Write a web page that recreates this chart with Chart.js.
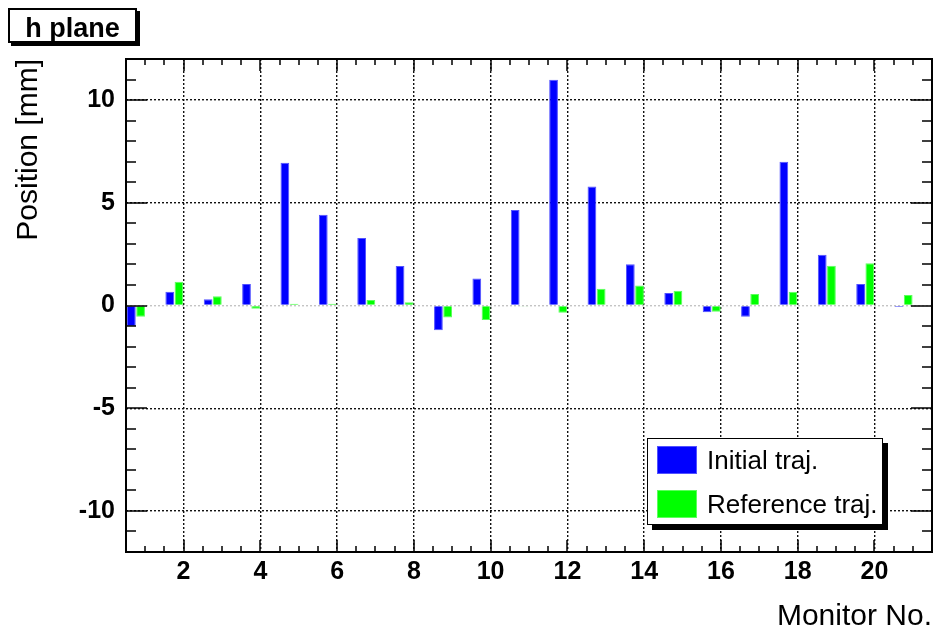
<!DOCTYPE html>
<html>
<head>
<meta charset="utf-8">
<script src="https://cdn.jsdelivr.net/npm/chart.js@4.4.1/dist/chart.umd.min.js"></script>
<style>
  html, body { margin: 0; padding: 0; background: #fff; }
  #wrap { position: relative; width: 935px; height: 635px; font-family: 'Liberation Sans', Arial, Helvetica, sans-serif; }
  #plot { position: absolute; left: 0; top: 0; }
  .title-box {
    position: absolute; left: 8px; top: 8px; width: 129px; height: 35px; box-sizing: border-box;
    border: 2px solid #000; background: #fff; box-shadow: 3px 3px 0 #000;
    font-weight: bold; font-size: 27px; line-height: 30px; padding-top: 3px; text-align: center; color: #000;
  }
  .legend-box {
    position: absolute; left: 647px; top: 438px; width: 236px; height: 87px; box-sizing: border-box;
    border: 1px solid #000; background: #fff; box-shadow: 5px 5px 0 #000;
  }
  .legend-row { position: absolute; left: 9px; height: 28px; display: flex; align-items: flex-start; }
  .legend-row .sw { width: 40px; height: 28px; box-sizing: border-box; border: 1px solid; }
  .legend-row .lb { margin-left: 10px; font-size: 26px; line-height: 28px; color: #000; white-space: nowrap; }
</style>
</head>
<body>
<div id="wrap">
  <canvas id="plot" width="935" height="635"></canvas>
  <div class="title-box">h plane</div>
  <div class="legend-box" id="legend"></div>
</div>
<script>
// monitor readings (mm)
const monitors = [1, 2, 3, 4, 5, 6, 7, 8, 9, 10, 11, 12, 13, 14, 15, 16, 17, 18, 19, 20, 21];
const initialTraj = [-1.0, 0.67, 0.30, 1.05, 6.95, 4.42, 3.28, 1.92, -1.2, 1.31, 4.65, 10.99, 5.79, 2.01, 0.61, -0.33, -0.55, 7.0, 2.47, 1.05, -0.07];
const referenceTraj = [-0.55, 1.16, 0.45, -0.16, 0.08, 0.08, 0.27, 0.16, -0.58, -0.71, -0.03, -0.35, 0.81, 0.97, 0.72, -0.30, 0.56, 0.67, 1.93, 2.06, 0.51];
const seriesNames = ['Initial traj.', 'Reference traj.'];
const xTickValues = [2, 4, 6, 8, 10, 12, 14, 16, 18, 20];
const yTickValues = [-10, -5, 0, 5, 10];

const FONT = "'Liberation Sans', Arial, Helvetica, sans-serif";
const colors = [
  { fill: '#0000ff', edge: '#5252ff' },
  { fill: '#00ff00', edge: '#5cff5c' }
];

// ROOT style frame: solid box with inward ticks on all four sides
const rootFrame = {
  id: 'rootFrame',
  afterDatasetsDraw(chart) {
    const { ctx, chartArea: a, scales: { x, y } } = chart;
    ctx.save();
    ctx.strokeStyle = '#000';
    ctx.lineWidth = 1.5;
    ctx.beginPath();
    for (let v = x.min; v <= x.max + 1e-9; v += 0.5) {
      const px = Math.round(x.getPixelForValue(v));
      const len = xTickValues.includes(v) ? 12 : 6;
      ctx.moveTo(px, a.bottom); ctx.lineTo(px, a.bottom - len);
      ctx.moveTo(px, a.top); ctx.lineTo(px, a.top + len);
    }
    for (let v = y.min; v <= y.max + 1e-9; v += 1) {
      const py = Math.round(y.getPixelForValue(v));
      const len = v % 5 === 0 ? 21 : 10;
      ctx.moveTo(a.left, py); ctx.lineTo(a.left + len, py);
      ctx.moveTo(a.right, py); ctx.lineTo(a.right - len, py);
    }
    ctx.stroke();
    ctx.lineWidth = 2;
    ctx.strokeRect(a.left, a.top, a.right - a.left, a.bottom - a.top);
    ctx.restore();
  }
};

const datasets = [initialTraj, referenceTraj].map((vals, i) => ({
  label: seriesNames[i],
  data: monitors.map((m, j) => ({ x: m, y: vals[j] })),
  xAxisID: 'xb',
  backgroundColor: colors[i].fill,
  borderColor: colors[i].edge,
  borderWidth: 1,
  categoryPercentage: 0.48,
  barPercentage: 0.95
}));

new Chart(document.getElementById('plot'), {
  type: 'bar',
  data: { datasets },
  options: {
    responsive: false,
    animation: false,
    devicePixelRatio: 1,
    layout: { padding: { left: 0, top: 59, right: 3, bottom: 0 } },
    plugins: { legend: { display: false }, tooltip: { enabled: false } },
    scales: {
      // bars sit in the left half of each monitor bin
      xb: {
        type: 'linear', display: false, min: 0.74, max: 21.74, offset: false,
        grid: { offset: false },
        afterBuildTicks: (s) => { s.ticks = monitors.map((v) => ({ value: v })); }
      },
      x: {
        type: 'linear', position: 'bottom', min: 0.5, max: 21.5, offset: false,
        afterBuildTicks: (s) => { s.ticks = xTickValues.map((v) => ({ value: v })); },
        afterFit: (s) => { s.height = 83; },
        grid: { color: '#111', lineWidth: 1.4, drawTicks: false, offset: false },
        border: { display: false, dash: [2, 2] },
        ticks: { color: '#000', font: { family: FONT, size: 25, weight: 'bold' }, padding: 5, autoSkip: false, maxRotation: 0 },
        title: { display: true, text: 'Monitor No.', align: 'end', color: '#000', font: { family: FONT, size: 30 }, padding: { top: 0, bottom: 0 } }
      },
      y: {
        type: 'linear', min: -12, max: 12,
        afterBuildTicks: (s) => { s.ticks = yTickValues.map((v) => ({ value: v })); },
        afterFit: (s) => { s.width = 126; },
        grid: { color: (c) => (c.tick && c.tick.value === 0 ? '#c4c4c4' : '#111'), lineWidth: 1.4, drawTicks: false },
        border: { display: false, dash: [2, 2] },
        ticks: { color: '#000', font: { family: FONT, size: 25, weight: 'bold' }, padding: 11 },
        title: { display: true, text: 'Position [mm]', align: 'end', color: '#000', font: { family: FONT, size: 30 }, padding: { top: 11, bottom: 0 } }
      }
    }
  },
  plugins: [rootFrame]
});

// legend entries
document.getElementById('legend').innerHTML = seriesNames.map((name, i) => `
  <div class="legend-row" style="top:${7 + i * 43.5}px">
    <div class="sw" style="background:${colors[i].fill};border-color:${colors[i].edge}"></div>
    <div class="lb">${name}</div>
  </div>
`).join('');
</script>
</body>
</html>
